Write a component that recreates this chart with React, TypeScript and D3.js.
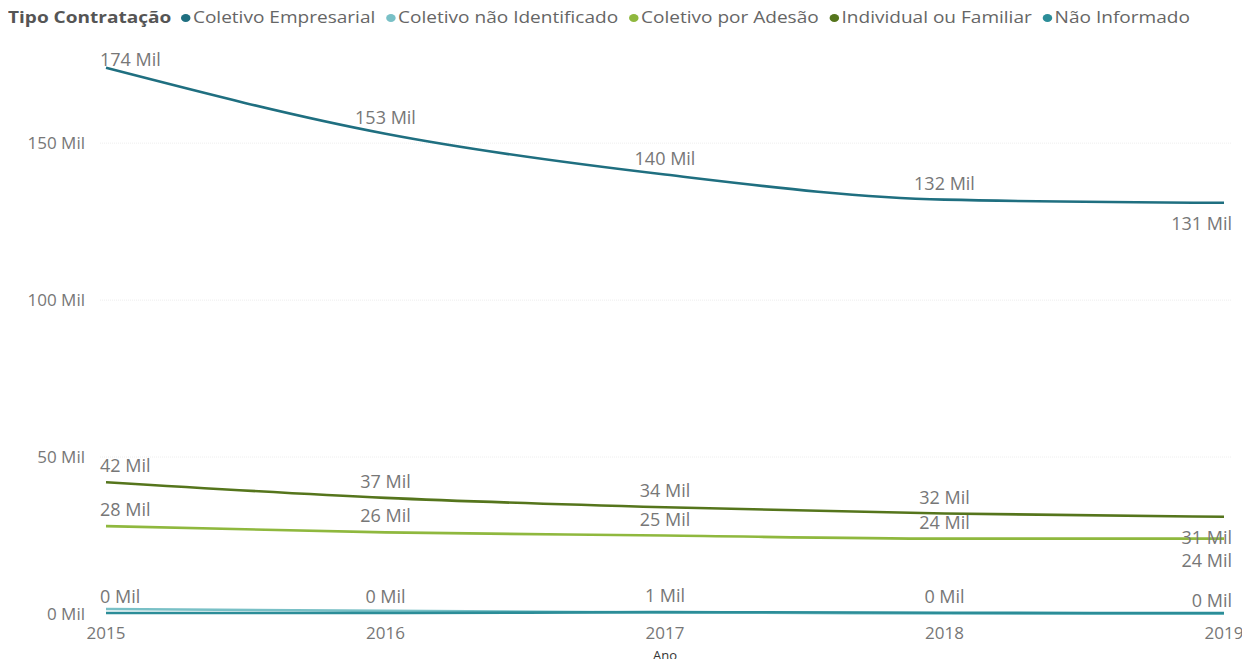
import React, { useEffect, useRef } from "react";
import * as d3 from "d3";

const years = [2015, 2016, 2017, 2018, 2019];
const seriesNames = [
  "Coletivo Empresarial",
  "Coletivo não Identificado",
  "Coletivo por Adesão",
  "Individual ou Familiar",
  "Não Informado",
];
const coletivoEmpresarial = [174, 153, 140, 132, 131];
const coletivoNaoIdentificado = [1.6, 1.0, 0.5, 0.2, 0.1];
const coletivoPorAdesao = [28, 26, 25, 24, 24];
const individualFamiliar = [42, 37, 34, 32, 31];
const naoInformado = [0.3, 0.3, 0.6, 0.4, 0.3];
const colors = ["#1f6f80", "#79c0c6", "#8fb83e", "#55751c", "#2c8d98"];
const yTicks = [0, 50, 100, 150];
const legendTitle = "Tipo Contratação";
const xTitle = "Ano";

const allSeries = [
  coletivoEmpresarial,
  coletivoNaoIdentificado,
  coletivoPorAdesao,
  individualFamiliar,
  naoInformado,
];
const labelled = [true, false, true, true, true];

export default function App() {
  const ref = useRef<SVGSVGElement>(null);
  useEffect(() => {
    const svg = d3.select(ref.current);
    svg.selectAll("*").remove();
    const font = "'Open Sans', 'Noto Sans', sans-serif";
    const x = d3.scaleLinear().domain([2015, 2019]).range([106, 1224]);
    const y = d3.scaleLinear().domain([0, 180]).range([614, 49]);

    // legend
    const lg = svg.append("g").attr("font-family", font);
    const title = lg
      .append("text")
      .attr("x", 0)
      .attr("y", 23)
      .attr("font-size", 16)
      .attr("font-weight", 700)
      .attr("fill", "#555")
      .text(legendTitle);
    let lx = (title.node() as SVGTextElement).getComputedTextLength() + 8;
    seriesNames.forEach((n, i) => {
      lg.append("circle").attr("cx", lx + 4).attr("cy", 18).attr("r", 4).attr("fill", colors[i]);
      const t = lg
        .append("text")
        .attr("x", lx + 10)
        .attr("y", 23)
        .attr("font-size", 16)
        .attr("fill", "#666")
        .text(n);
      lx += 10 + (t.node() as SVGTextElement).getComputedTextLength() + 9;
    });
    const sx = (1190 - 8) / (lx - 9);
    lg.attr("transform", `translate(8,0) scale(${sx},1)`);

    // gridlines
    svg
      .append("g")
      .selectAll("line")
      .data(yTicks.filter((d) => d > 0))
      .join("line")
      .attr("x1", 100)
      .attr("x2", 1232)
      .attr("y1", (d) => y(d))
      .attr("y2", (d) => y(d))
      .attr("stroke", "#eeeeee")
      .attr("stroke-dasharray", "1,1");

    // y axis labels
    svg
      .append("g")
      .selectAll("text")
      .data(yTicks)
      .join("text")
      .attr("x", 85)
      .attr("y", (d) => y(d) + 6)
      .attr("text-anchor", "end")
      .attr("font-family", font)
      .attr("font-size", 17)
      .attr("fill", "#777")
      .text((d) => `${d} Mil`);

    // x axis labels
    svg
      .append("g")
      .selectAll("text")
      .data(years)
      .join("text")
      .attr("x", (d) => x(d))
      .attr("y", 639)
      .attr("text-anchor", "middle")
      .attr("font-family", font)
      .attr("font-size", 17)
      .attr("fill", "#777")
      .text((d) => String(d));
    svg
      .append("text")
      .attr("x", x(2017))
      .attr("y", 660)
      .attr("text-anchor", "middle")
      .attr("font-family", font)
      .attr("font-size", 13)
      .attr("fill", "#333")
      .text(xTitle);

    const line = d3
      .line<number>()
      .x((_, i) => x(years[i]))
      .y((d) => y(d))
      .curve(d3.curveMonotoneX);

    allSeries.forEach((s, si) => {
      svg
        .append("path")
        .attr("d", line(s) as string)
        .attr("fill", "none")
        .attr("stroke", colors[si])
        .attr("stroke-width", 2.6);
    });

    const fmt = d3.format(".0f");
    const labels: { x: number; y: number; anchor: string; text: string }[] = [];
    const lastIdx = years.length - 1;
    const lastBig: { py: number; v: number }[] = [];
    allSeries.forEach((s, si) => {
      if (!labelled[si]) return;
      s.forEach((v, i) => {
        const px = x(years[i]);
        const py = y(v);
        if (i === lastIdx) {
          if (v > 5) lastBig.push({ py, v });
          else labels.push({ x: px + 8, y: py - 6, anchor: "end", text: `${fmt(v)} Mil` });
          return;
        }
        const first = i === 0;
        labels.push({
          x: first ? px - 6 : px,
          y: Math.max(py - 10, 66),
          anchor: first ? "start" : "middle",
          text: `${fmt(v)} Mil`,
        });
      });
    });
    lastBig.sort((a, b) => a.py - b.py);
    let prev = -Infinity;
    lastBig.forEach((d) => {
      let ly = d.py + 27;
      if (ly - prev < 23) ly = prev + 23;
      prev = ly;
      labels.push({ x: x(years[lastIdx]) + 8, y: ly, anchor: "end", text: `${fmt(d.v)} Mil` });
    });

    svg
      .append("g")
      .selectAll("text")
      .data(labels)
      .join("text")
      .attr("x", (d) => d.x)
      .attr("y", (d) => d.y)
      .attr("text-anchor", (d) => d.anchor)
      .attr("font-family", font)
      .attr("font-size", 18)
      .attr("fill", "#777")
      .text((d) => d.text);
  }, []);
  return (
    <svg ref={ref} width={1250} height={667} style={{ display: "block", margin: -8, background: "#fff" }} />
  );
}
